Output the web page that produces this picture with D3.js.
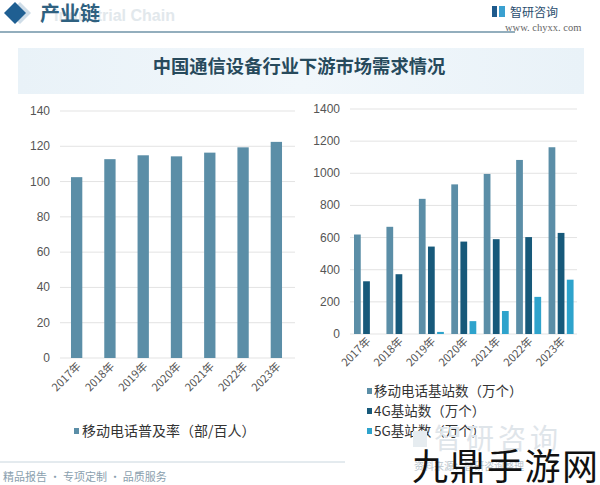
<!DOCTYPE html>
<html><head><meta charset="utf-8">
<script src="https://cdn.jsdelivr.net/npm/d3@7/dist/d3.min.js"></script>
<style>
html,body{margin:0;padding:0;background:#fff;}
svg{display:block;font-family:"Noto Sans CJK SC","Noto Sans",sans-serif;}
</style></head>
<body>
<svg id="c" width="600" height="485"></svg>
<script>
const years = ["2017年","2018年","2019年","2020年","2021年","2022年","2023年"];
const penetration = [102.5,112.7,114.9,114.3,116.4,119.4,122.5];
const baseStations = [619,667,841,931,996,1083,1162];
const stations4G = [328,372,544,575,590,603,629];
const stations5G = [0,0,13,80,143,231,338];
const leftTicks = [0,20,40,60,80,100,120,140];
const rightTicks = [0,200,400,600,800,1000,1200,1400];
const seriesNames = ["移动电话基站数（万个）","4G基站数（万个）","5G基站数（万个）"];
const leftSeriesName = "移动电话普及率（部/百人）";
const colors = ["#5b8ea7","#17597a","#2ea3cc"];

const svg = d3.select("#c");

// ---- header ----
const defs = svg.append("defs");
const g1 = defs.append("linearGradient").attr("id","tb").attr("x1","0").attr("x2","1");
g1.append("stop").attr("offset","0").attr("stop-color","#e9f2f8");
g1.append("stop").attr("offset","0.5").attr("stop-color","#f1f7fb");
g1.append("stop").attr("offset","1").attr("stop-color","#e9f2f8");

svg.append("path").attr("d","M20,2 L31,13 L20,24 L9,13 Z").attr("fill","#cfdde8");
svg.append("path").attr("d","M15,2 L26,13 L15,24 L4,13 Z").attr("fill","#1f5f92");
svg.append("text").attr("x",54).attr("y",21).attr("font-size",16).attr("font-weight","bold")
  .attr("fill","#e2e8ec").text("Industrial Chain").attr("font-family","Liberation Sans, sans-serif");
svg.append("text").attr("x",40).attr("y",21).attr("font-size",20).attr("font-weight","bold")
  .attr("fill","#2f6180").text("产业链");
svg.append("line").attr("x1",0).attr("x2",515).attr("y1",32).attr("y2",32)
  .attr("stroke","#6f93a7").attr("stroke-width",1.5);
// logo
svg.append("rect").attr("x",492).attr("y",6).attr("width",5).attr("height",11).attr("fill","#1e5a8c");
svg.append("rect").attr("x",499).attr("y",6).attr("width",6).attr("height",11).attr("fill","#3aa0d0");
svg.append("text").attr("x",510).attr("y",17).attr("font-size",12).attr("fill","#2a4d6e").text("智研咨询");
svg.append("text").attr("x",505).attr("y",31).attr("font-size",10.5).attr("fill","#666")
  .attr("font-family","Liberation Serif, serif").text("www. chyxx. com");

// title box
svg.append("rect").attr("x",18).attr("y",48).attr("width",566).attr("height",46).attr("fill","url(#tb)");
svg.append("text").attr("x",299).attr("y",73).attr("text-anchor","middle").attr("font-size",18.3)
  .attr("font-weight","bold").attr("fill","#274a5c").text("中国通信设备行业下游市场需求情况");

// ---- left chart ----
const L = {x0:60, x1:293, y0:358, y1:111};
const xl = d3.scaleBand().domain(years).range([L.x0,L.x1]);
const yl = d3.scaleLinear().domain([0,140]).range([L.y0,L.y1]);
const gl = svg.append("g");
gl.selectAll("line.grid").data(leftTicks).join("line")
  .attr("x1",L.x0).attr("x2",L.x1+2).attr("y1",d=>yl(d)).attr("y2",d=>yl(d))
  .attr("stroke","#e3e3e3").attr("stroke-width",1);
gl.selectAll("text.yt").data(leftTicks).join("text")
  .attr("x",50).attr("y",d=>yl(d)+4).attr("text-anchor","end").attr("font-size",12)
  .attr("fill","#555").attr("font-family","Liberation Sans, sans-serif").text(d=>d);
const bwL = xl.bandwidth()*0.34;
gl.selectAll("rect.bar").data(penetration).join("rect")
  .attr("x",(d,i)=>xl(years[i])+xl.bandwidth()/2-bwL/2).attr("width",bwL)
  .attr("y",d=>yl(d)).attr("height",d=>yl(0)-yl(d)).attr("fill",colors[0]);
gl.selectAll("text.xt").data(years).join("text")
  .attr("transform",d=>`translate(${xl(d)+xl.bandwidth()/2+5},${L.y0+9}) rotate(-45)`)
  .attr("text-anchor","end").attr("font-size",11).attr("fill","#555").text(d=>d);
// left legend
gl.append("rect").attr("x",74).attr("y",428).attr("width",5).attr("height",6).attr("fill",colors[0]);
gl.append("text").attr("x",82).attr("y",436).attr("font-size",14).attr("fill","#333").text(leftSeriesName);

// ---- right chart ----
const R = {x0:350, x1:577, y0:334, y1:109};
const xr = d3.scaleBand().domain(years).range([R.x0,R.x1]);
const xs = d3.scaleBand().domain([0,1,2]).range([4,29]).paddingInner(0.26);
const yr = d3.scaleLinear().domain([0,1400]).range([R.y0,R.y1]);
const gr = svg.append("g");
gr.selectAll("line.grid").data(rightTicks).join("line")
  .attr("x1",R.x0).attr("x2",R.x1).attr("y1",d=>yr(d)).attr("y2",d=>yr(d))
  .attr("stroke","#e3e3e3").attr("stroke-width",1);
gr.selectAll("text.yt").data(rightTicks).join("text")
  .attr("x",340).attr("y",d=>yr(d)+4).attr("text-anchor","end").attr("font-size",12)
  .attr("fill","#555").attr("font-family","Liberation Sans, sans-serif").text(d=>d);
const series = [baseStations, stations4G, stations5G];
series.forEach((s,k)=>{
  gr.selectAll("rect.s"+k).data(s).join("rect")
    .attr("x",(d,i)=>xr(years[i])+xs(k)).attr("width",xs.bandwidth())
    .attr("y",d=>yr(d)).attr("height",d=>yr(0)-yr(d)).attr("fill",colors[k]);
});
gr.selectAll("text.xt").data(years).join("text")
  .attr("transform",d=>`translate(${xr(d)+xr.bandwidth()/2+5},${R.y0+8}) rotate(-45)`)
  .attr("text-anchor","end").attr("font-size",11).attr("fill","#555").text(d=>d);
// right legend
const legY = [391,411,431];
seriesNames.forEach((n,k)=>{
  gr.append("rect").attr("x",367).attr("y",legY[k]-3).attr("width",5).attr("height",6).attr("fill",colors[k]);
  gr.append("text").attr("x",374).attr("y",legY[k]+5).attr("font-size",13.5).attr("fill","#333").text(n);
});

// ---- footer ----
svg.append("rect").attr("x",413).attr("y",431).attr("width",14).attr("height",16).attr("fill","#e6ecf0");
svg.append("text").attr("x",434).attr("y",449).attr("font-size",28).attr("fill","#dfe5ea")
  .attr("letter-spacing",4).text("智研咨询");
svg.append("line").attr("x1",0).attr("x2",345).attr("y1",462).attr("y2",462)
  .attr("stroke","#c9d6de").attr("stroke-width",1);
svg.append("text").attr("x",3).attr("y",481).attr("font-size",11).attr("fill","#8aa0ae")
  .text("精品报告 · 专项定制 · 品质服务");
svg.append("text").attr("x",414).attr("y",470).attr("font-size",10).attr("fill","#b9c4cc").text("资料来源：智研咨询整理");
svg.append("text").attr("x",412).attr("y",480).attr("font-size",36).attr("fill","#111")
  .attr("textLength",186).text("九鼎手游网");
</script>
</body></html>
